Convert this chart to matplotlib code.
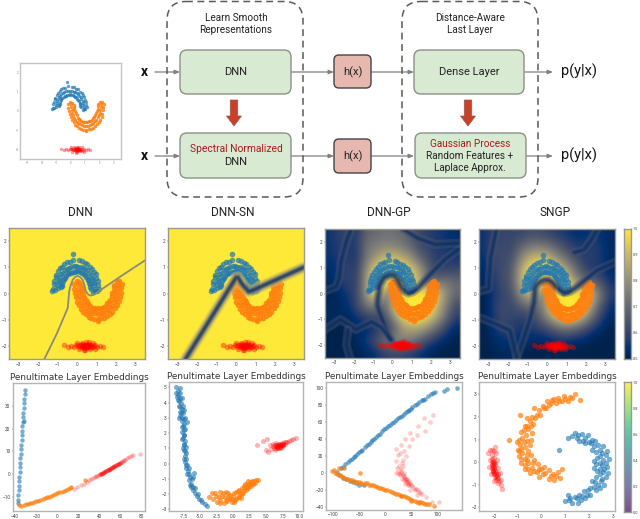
import matplotlib
matplotlib.use("Agg")
import matplotlib.pyplot as plt
import numpy as np
from matplotlib.patches import FancyBboxPatch, FancyArrow

plt.rcParams["font.family"] = ["Roboto", "DejaVu Sans"]

# ----- Data -----
BLUE_MOON = np.array([
    (-1.00, .20), (-1.24, .16), (-.80, .24), (-1.02, .33), (-1.19, .36), (-.78, .30), (-.95, .44), (-1.17, .49),
    (-.76, .38), (-.93, .52), (-1.10, .62), (-.71, .47), (-.86, .63), (-1.06, .70), (-.69, .55), (-.81, .73),
    (-.97, .85), (-.63, .61), (-.71, .79), (-.87, .96), (-.56, .66), (-.63, .89), (-.76, 1.03), (-.47, .73),
    (-.52, .95), (-.66, 1.13), (-.41, .77), (-.42, .98), (-.49, 1.19), (-.33, .80), (-.29, 1.03), (-.37, 1.22),
    (-.23, .83), (-.18, 1.05), (-.19, 1.29), (-.11, .83), (-.05, 1.06), (-.21, 1.50), (-.04, .86), (.07, 1.03),
    (.11, 1.26), (.05, .85), (.21, 1.01), (.25, 1.24), (.16, .81), (.33, .99), (.41, 1.16), (.24, .80),
    (.42, .93), (.54, 1.12), (.34, .74), (.54, .88), (.65, 1.01), (.41, .71), (.61, .79), (.78, .94),
    (.46, .62), (.71, .72), (.86, .82), (.55, .57), (.76, .61), (.96, .73), (.57, .51), (.84, .53),
    (1.00, .58), (.64, .41), (.86, .41), (1.07, .48), (.66, .36), (.90, .31), (1.09, .32), (.69, .24),
    (.91, .19), (1.13, .19), (.71, .19), (1.01, .08), (.84, .05), (.95, .11), (-1.29, .10), (-1.15, .14),
])
ORANGE_MOON = np.array([
    (.05, .36), (-.15, .38), (.25, .33), (-.02, .46), (.12, .44), (.04, .19), (-.14, .17), (.26, .22),
    (.09, .07), (-.09, .02), (.27, .11), (.11, -.09), (-.06, -.15), (.33, -.01), (.19, -.21), (.02, -.31),
    (.35, -.13), (.26, -.36), (.10, -.45), (.44, -.23), (.33, -.45), (.21, -.59), (.50, -.34), (.46, -.55),
    (.32, -.71), (.59, -.41), (.55, -.64), (.45, -.78), (.68, -.46), (.69, -.70), (.61, -.88), (.76, -.54),
    (.79, -.75), (.74, -.92), (.88, -.55), (.95, -.76), (.89, -.97), (.97, -.59), (1.06, -.79), (1.08, -.99),
    (1.06, -.57), (1.22, -.76), (1.25, -.95), (1.16, -.58), (1.33, -.75), (1.41, -.92), (1.29, -.54), (1.48, -.68),
    (1.55, -.87), (1.37, -.50), (1.57, -.64), (1.69, -.78), (1.49, -.47), (1.71, -.53), (1.82, -.69), (1.56, -.38),
    (1.79, -.46), (1.95, -.57), (1.66, -.31), (1.90, -.32), (2.04, -.45), (1.71, -.23), (1.95, -.20), (2.15, -.29),
    (1.79, -.11), (2.03, -.08), (2.19, -.14), (1.82, .01), (2.05, .07), (2.27, .03), (1.88, .09), (2.10, .20),
    (2.28, .20), (1.88, .24), (2.09, .34), (2.31, .36), (1.91, .34), (2.06, .46), (2.16, .47), (1.10, -1.05),
])
RED_BLOB = np.array([
    (.45, -2.0), (.40, -1.96), (.50, -2.04), (.30, -2.02), (.60, -1.98), (.35, -2.07), (.55, -1.93), (.20, -1.98),
    (.70, -2.03), (.15, -2.05), (.75, -1.96), (.05, -2.0), (.85, -2.02), (.45, -1.87), (.42, -2.14), (.25, -1.90),
    (.65, -2.10), (-.05, -1.97), (.95, -1.98), (-.15, -2.03), (1.05, -2.04), (.10, -2.12), (.80, -1.90), (.35, -2.17),
    (.60, -1.85), (-.30, -1.99), (1.20, -2.0), (-.45, -2.04), (1.35, -2.03), (.00, -1.88), (.95, -2.12), (-.65, -1.98),
    (.48, -1.95), (.38, -2.03), (.52, -2.0), (.28, -1.96), (.62, -2.05), (.44, -2.08), (.33, -1.93), (.58, -2.02),
    (.42, -2.02), (.47, -1.98), (.36, -1.99), (.56, -1.97), (.24, -2.04), (.68, -1.97), (.12, -1.96), (.78, -2.06),
])

E1_BLUE = np.array([
    (-37.0, -12.5), (-37.2, -11), (-36.9, -9), (-36.7, -7), (-36.5, -5), (-36.2, -3), (-36, -1), (-35.8, 1), (-35.5, 3),
    (-35.2, 5), (-35, 7), (-34.7, 9), (-34.4, 11), (-34.1, 13), (-33.9, 15), (-33.6, 17), (-33.3, 19), (-33.1, 21),
    (-32.8, 23), (-32.5, 25), (-32.3, 27), (-32, 29), (-31.7, 31), (-31.3, 33), (-31, 35), (-30.7, 37), (-31.2, 23.5),
])
E1_ORANGE = np.array([
    (-36, -13.5), (-34, -13.7), (-32, -13.2), (-30, -13), (-28, -12.9), (-26, -12.6), (-24, -12.4), (-22, -12.1), (-20, -11.8),
    (-18, -11.5), (-16, -11.2), (-14, -10.8), (-12, -10.5), (-10, -10.1), (-8, -9.8), (-6, -9.4), (-4, -9), (-2, -8.6),
    (0, -8.3), (2, -7.9), (4, -7.5), (6, -7.1), (8, -6.7), (10, -6.2), (12, -5.8), (13, -5.5), (26, -2.4),
])
E1_RED = np.array([
    (16, -6.3), (19, -5.6), (22, -4.6), (25, -4), (28, -3.2), (30, -2.6), (32, -2.2), (34, -1.6), (36, -1),
    (37, -.9), (38, -.6), (39, -.3), (40, 0), (41, .2), (42, .4), (43, .7), (44, .9), (45, 1.2),
    (46, 1.4), (47, 1.7), (48, 1.9), (49, 2.2), (50, 2.4), (51, 2.7), (52, 3), (53, 3.2), (54, 3.5),
    (55, 3.8), (56, 4.1), (57, 4.4), (58, 4.7), (59, 5), (60, 5.3), (62, 5.8), (64, 6.4), (66, 7),
    (68, 7.6), (70, 8), (72, 8.4), (78, 9), (40.5, .1), (44.5, 1), (48.5, 2), (52.5, 3.1), (56.5, 4.3),
    (41.5, .3), (43.5, .8), (45.5, 1.3), (47.5, 1.8), (49.5, 2.3), (51.5, 2.9), (53.5, 3.3), (55.5, 3.9), (57.5, 4.5),
    (59.5, 5.1), (61, 5.5), (63, 6.1), (42, .3), (46, 1.5), (50, 2.5), (54, 3.6), (58, 4.6),
])

E2_BLUE = np.array([
    (-8.65, 5.0), (-8.0, 4.95), (-8.6, 4.6), (-8.3, 4.5), (-8.1, 4.3), (-8.4, 4.2), (-7.9, 4.0), (-8.2, 3.8), (-7.8, 3.6),
    (-8.1, 3.4), (-7.6, 3.3), (-8.0, 3.1), (-7.3, 3.0), (-7.8, 2.8), (-7.0, 2.7), (-7.6, 2.5), (-7.3, 2.3), (-7.7, 2.1),
    (-7.4, 1.9), (-7.6, 1.7), (-7.3, 1.5), (-7.5, 1.3), (-7.2, 1.1), (-7.5, .9), (-7.2, .7), (-7.3, .5), (-7.1, .3),
    (-7.3, .1), (-6.9, -.1), (-7.1, -.3), (-6.8, -.5), (-6.9, -.7), (-6.5, -.9), (-6.7, -1.1), (-6.3, -1.3), (-6.4, -1.5),
    (-6.0, -1.7), (-5.8, -1.9), (-5.5, -2.1), (-5.1, -2.3), (-4.7, -2.5), (-4.2, -2.65), (-3.9, -2.75),
    (-8.4, 4.75), (-8.5, 4.4), (-8.0, 4.6), (-8.2, 4.1), (-7.8, 4.3), (-8.0, 3.7), (-7.6, 3.8), (-7.9, 3.3), (-7.5, 3.5),
    (-7.7, 3.0), (-8.2, 3.0), (-7.5, 2.9), (-7.4, 2.6), (-7.8, 2.4), (-7.5, 2.2), (-7.5, 1.9), (-7.7, 1.6), (-7.4, 1.2),
    (-7.6, 1.0), (-7.3, .8), (-7.4, .3), (-7.1, -.1), (-6.7, -.3), (-6.6, -.7), (-5.9, -.6), (-6.2, -1.0), (-6.5, -1.4),
    (-6.1, -1.5), (-5.7, -1.6), (-5.3, -2.0), (-4.9, -2.4), (-6.1, -.9),
])
E2_ORANGE = np.array([
    (-3.65, -2.2), (-3.2, -1.9), (-3.0, -2.3), (-2.6, -2.1), (-2.4, -2.5), (-2.0, -1.85), (-2.0, -2.4), (-1.7, -2.1), (-1.4, -2.55),
    (-1.2, -2.2), (-.9, -2.45), (-.7, -1.95), (-.5, -2.3), (-.2, -2.5), (0, -2.1), (.3, -2.35), (.5, -1.85), (.7, -2.2),
    (.9, -1.75), (1.1, -2.05), (1.3, -1.6), (1.5, -1.95), (1.7, -1.45), (1.9, -1.75), (2.1, -1.3), (2.3, -1.6), (2.5, -1.2),
    (2.7, -1.45), (2.9, -1.15), (3.1, -1.35), (3.3, -1.25), (3.5, -1.1), (3.85, -1.05), (.9, -2.2), (1.4, -2.0), (-1.0, -1.85),
    (-2.8, -1.9), (-2.2, -2.2), (-1.9, -2.55), (-1.5, -1.95), (-1.1, -2.4), (-.8, -2.2), (-.4, -2.05), (-.1, -2.3), (.2, -2.5),
    (.2, -1.95), (.5, -2.3), (.7, -1.8), (1.0, -1.9), (1.2, -2.25), (1.6, -1.7), (1.8, -1.55), (2.0, -1.5), (2.2, -1.45), (2.4, -1.35),
    (2.6, -1.3), (2.8, -1.3), (3.0, -1.2), (3.2, -1.15), (2.2, -1.15), (1.8, -1.3),
])
E2_RED = np.array([
    (3.6, 1.2), (4.6, 1.5), (5.0, .9), (5.1, 1.6), (5.3, .75), (5.6, 1.2), (5.8, .95), (6.0, 1.3), (6.2, 1.05),
    (6.3, 1.2), (6.4, .9), (6.5, 1.35), (6.6, 1.1), (6.7, 1.0), (6.8, 1.25), (6.9, 1.15), (7.0, 1.05), (7.1, 1.3),
    (7.2, 1.2), (7.3, 1.1), (7.4, 1.35), (7.5, 1.25), (7.6, 1.15), (7.7, 1.4), (7.8, 1.3), (8.0, 1.4), (8.2, 1.45),
    (8.5, 1.5), (8.8, 1.55), (9.1, 1.6), (9.6, 1.65), (6.6, 1.2), (6.9, 1.3), (7.2, 1.05), (7.5, 1.3),
    (6.1, 1.15), (6.4, 1.15), (6.7, 1.2), (7.0, 1.2), (7.3, 1.25), (7.6, 1.3), (6.5, 1.0), (6.8, 1.05), (7.1, 1.1), (7.4, 1.2),
])

E3_BLUE = np.array([
    (-92, 2), (-86, 6), (-82, 8), (-77, 11), (-72, 14), (-68, 16), (-65, 17), (-61, 19), (-58, 20), (-54, 23),
    (-50, 25), (-47, 27), (-44, 28), (-40, 31), (-36, 33), (-32, 35), (-28, 37), (-25, 39), (-22, 41), (-18, 43),
    (-14, 45), (-10, 47), (-6, 50), (-2, 52), (2, 54), (5, 56), (8, 57), (12, 59), (16, 61), (20, 63),
    (24, 65), (28, 66), (32, 68), (36, 70), (40, 72), (43, 73), (46, 75), (49, 76), (52, 78), (56, 80),
    (60, 82), (65, 84), (70, 86), (73, 87), (76, 88), (82, 91), (88, 93), (92, 95), (96, 96), (112, 97),
    (118, 99), (137, 101), (-90, -2), (-82, -5), (-75, -7), (-68, -9), (-62, -10), (-56, -11), (-50, -13), (-42, -14),
])
E3_ORANGE = np.array([
    (-102, 2.5), (-98, 3.5), (-96, 0), (-90, 7), (-92, -1), (-88, -2), (-85, -3), (-82, -4), (-80, -5), (-76, -6),
    (-72, -7), (-68, -8), (-64, -8), (-61, -9), (-58, -10), (-54, -10), (-50, -10), (-47, -11), (-44, -12), (-40, -11),
    (-36, -11), (-32, -13), (-28, -14), (-24, -14), (-20, -15), (-16, -16), (-12, -17), (-8, -17), (-4, -18), (0, -19),
    (4, -20), (8, -21), (12, -22), (16, -23), (20, -24), (24, -24), (28, -25), (32, -26), (36, -27), (40, -28),
    (44, -29), (48, -30), (52, -31), (56, -32), (60, -33), (64, -33), (68, -34), (72, -35), (76, -36), (80, -36),
    (83, -36), (-80, 6), (-48, 0), (93, -38), (30, -27), (50, -32), (65, -35),
])
E3_RED = np.array([
    (92, 69), (75, 65), (86, 60), (62, 56), (76, 50), (48, 48), (60, 45), (38, 40), (52, 40), (30, 34),
    (45, 32), (20, 29), (36, 26), (25, 22), (40, 20), (20, 15), (32, 12), (22, 7), (30, 5), (24, 2),
    (36, 0), (20, 1), (28, -2), (35, -4), (40, -6), (32, -7), (42, -9), (48, -11), (38, -12), (52, -15),
    (58, -18), (48, -20), (64, -22), (70, -24), (60, -25), (78, -28), (90, -33), (102, -33), (36, -3), (42, -7),
    (30, 3), (26, -1), (46, -14), (56, -19), (34, 9), (28, 24), (33, 16), (26, 9), (30, 0), (33, -2),
    (38, -6), (44, -11), (50, -14), (54, -17), (40, -10), (46, -9), (62, -20), (66, -23), (36, -8), (43, -13),
])

E4_RED = np.array([
    (-2.1, .55), (-1.95, .65), (-2.25, .38), (-2.1, .3), (-1.9, .4), (-2.1, .12), (-2.0, .2), (-2.05, 0), (-1.95, -.05), (-2.1, -.12),
    (-2.0, -.2), (-2.1, -.28), (-1.98, -.3), (-2.05, -.4), (-1.9, -.45), (-2.0, -.52), (-1.85, -.55), (-1.95, -.65), (-1.82, -.7), (-1.9, -.8),
    (-1.78, -.85), (-1.85, -.95), (-1.72, -1.0), (-1.68, -1.2), (-2.02, -.1), (-2.03, -.25), (-1.98, -.48), (-1.92, -.6), (-1.88, -.72),
    (-2.05, .05), (-2.08, -.05), (-2.0, -.02), (-2.04, -.16), (-1.96, -.15), (-2.06, -.33), (-1.96, -.38), (-1.93, -.52), (-2.02, -.44), (-1.87, -.62),
    (-2.18, .1), (-1.86, .1), (-2.2, -.2), (-1.84, -.25), (-2.12, -.55), (-1.76, -.5), (-2.0, -.85), (-1.7, -.8), (-1.98, .5), (-2.15, .52),
])
E4_ORANGE = np.array([
    (1.63, 2.75), (1.4, 3.0), (1.3, 2.85), (1.1, 2.7), (.95, 2.95), (.85, 2.7), (.7, 2.85), (.6, 2.6), (.45, 2.75), (.3, 2.55),
    (.2, 2.4), (.05, 2.5), (-.1, 2.3), (-.2, 2.1), (-.3, 2.4), (-.4, 2.0), (-.5, 1.8), (-.35, 1.7), (-.6, 1.95), (-.7, 1.6),
    (-.55, 1.45), (-.85, 1.35), (-.65, 1.2), (-.8, 1.05), (-.95, 1.0), (-.6, .95), (-1.05, .9), (-.9, .75), (-.7, .65), (-1.0, .55),
    (-.8, .4), (-.55, .5), (-.95, .25), (-.7, .15), (-.45, .3), (-.85, -.05), (-.55, -.05), (-.3, .1), (-.7, -.3), (-.4, -.25),
    (-.15, -.1), (-.5, -.5), (-.2, -.45), (0, -.3), (-.1, -.65), (.15, -.5), (.3, -.35), (.3, -.75), (.5, -.55), (.7, -.45),
    (.55, -.8), (.79, -.7), (-.9, 2.1), (-1.35, 1.0), (.85, -.3),
    (1.2, 2.9), (1.0, 2.8), (.75, 2.7), (.55, 2.8), (.4, 2.6), (.25, 2.7), (.1, 2.4), (-.05, 2.1), (-.25, 1.95), (-.45, 1.6),
    (-.4, 1.3), (-.75, 1.4), (-.45, 1.0), (-.75, .9), (-.5, .75), (-.85, .6), (-.6, .3), (-.85, .15), (-.6, .1), (-.35, -.05),
    (-.7, -.15), (-.3, -.4), (-.55, -.3), (.05, -.55), (.4, -.6), (.6, -.6), (.1, -.2), (-.1, -.3), (-.95, .5), (-.6, 1.6),
])
E4_BLUE = np.array([
    (1.14, 1.07), (1.4, 1.3), (1.5, 1.05), (1.7, 1.25), (1.75, .95), (1.95, 1.2), (2.0, .9), (2.15, 1.0), (2.2, .7), (2.4, .75),
    (2.3, .45), (2.55, .4), (2.75, .5), (2.35, .2), (2.6, .1), (2.85, .15), (2.3, -.1), (2.55, -.15), (2.75, -.2), (2.35, -.4),
    (2.6, -.45), (2.8, -.5), (2.3, -.65), (2.55, -.75), (2.15, -.85), (2.4, -1.0), (2.65, -1.0), (2.05, -1.15), (2.3, -1.25), (1.8, -1.3),
    (2.05, -1.45), (1.6, -1.45), (1.85, -1.6), (1.4, -1.55), (1.65, -1.7), (1.2, -1.6), (1.0, -1.74), (1.3, -1.8), (.75, .55), (1.1, -1.45),
    (1.3, 1.15), (1.55, 1.2), (1.6, .95), (1.85, 1.05), (1.85, .85), (2.1, .85), (2.25, .95), (2.45, .55), (2.15, .55), (2.6, .7),
    (2.45, .25), (2.7, .3), (2.2, .05), (2.45, -.05), (2.7, -.05), (2.2, -.25), (2.45, -.3), (2.65, -.3), (2.45, -.55), (2.7, -.65),
    (2.25, -.9), (2.5, -.85), (2.2, -1.1), (2.45, -1.15), (1.95, -1.25), (1.9, -1.45), (1.7, -1.5), (1.5, -1.6), (1.55, -1.8), (1.15, -1.7),
])

# confidence on a coarse grid, x -3.5..3.5, y 2.5..-2.5
GP_FIELD = np.array([
    [.55, .58, .60, .56, .68, .70, .72, .72, .70, .66, .60, .58, .56, .55, .53],
    [.55, .58, .58, .56, .72, .75, .78, .78, .75, .70, .62, .60, .57, .56, .54],
    [.55, .56, .58, .56, .72, .82, .90, .92, .88, .82, .70, .62, .58, .57, .56],
    [.53, .55, .60, .58, .78, .95, 1.0, 1.0, 1.0, .95, .85, .68, .58, .60, .60],
    [.52, .55, .60, .58, .80, 1.0, 1.0, .95, 1.0, 1.0, .85, .70, .72, .74, .70],
    [.50, .52, .56, .60, .80, .98, .82, .75, .95, 1.0, 1.0, 1.0, .95, .80, .70],
    [.52, .52, .54, .60, .72, .78, .66, .90, 1.0, 1.0, 1.0, 1.0, .90, .75, .62],
    [.52, .52, .52, .55, .58, .60, .60, .78, .95, 1.0, 1.0, .95, .85, .70, .58],
    [.50, .50, .50, .52, .53, .55, .58, .62, .80, .85, .85, .78, .68, .58, .52],
    [.50, .50, .50, .52, .56, .62, .72, .78, .78, .75, .68, .60, .55, .52, .50],
    [.50, .50, .50, .50, .52, .54, .58, .60, .60, .58, .55, .52, .50, .50, .50],
])
SNGP_FIELD = np.array([
    [.55, .58, .60, .60, .60, .62, .62, .60, .58, .56, .54, .54, .56, .54, .52],
    [.55, .60, .62, .60, .68, .74, .76, .74, .68, .62, .58, .56, .58, .56, .52],
    [.54, .60, .62, .62, .76, .88, .92, .90, .82, .72, .64, .58, .58, .56, .52],
    [.52, .58, .62, .64, .84, .98, 1.0, 1.0, .98, .88, .74, .62, .56, .56, .52],
    [.52, .56, .62, .64, .85, 1.0, 1.0, .92, 1.0, 1.0, .84, .74, .70, .62, .55],
    [.50, .55, .60, .62, .78, .90, .80, .78, .95, 1.0, 1.0, 1.0, .90, .72, .58],
    [.50, .56, .62, .60, .66, .72, .68, .88, 1.0, 1.0, 1.0, 1.0, .82, .64, .54],
    [.50, .55, .62, .60, .58, .58, .64, .78, .90, .98, .95, .86, .70, .58, .52],
    [.50, .54, .58, .58, .56, .56, .58, .60, .66, .70, .68, .62, .56, .52, .50],
    [.50, .52, .54, .54, .54, .52, .52, .52, .54, .54, .52, .52, .50, .50, .50],
    [.50, .50, .52, .52, .50, .50, .50, .50, .50, .50, .50, .50, .50, .50, .50],
])

# class boundaries
DNN_LINE_X = [-1.68, -1.05, -0.48, -0.44, -0.40, -0.32, -0.22, -0.10, 0.03, 0.18, 0.29, 0.38, 0.46, 0.58, 0.72, 0.92, 1.15, 2.3, 3.47]
DNN_LINE_Y = [-2.5, -1.55, -0.56, -0.25, 0.08, 0.33, 0.52, 0.63, 0.67, 0.62, 0.52, 0.32, 0.08, -0.04, -0.08, -0.03, 0.10, 0.68, 1.25]
SN_LINE_X = [-2.6, -1.3, 0.0, 0.1, 0.3, 0.65, 0.85, 3.49]
SN_LINE_Y = [-2.5, -0.95, 0.61, 0.62, 0.38, 0.07, 0.12, 1.0]
GP_LINES = [
    ([-.09, -.43, -.69, -.78, -.76, -.66, -.43, -.14, .08, .26, .40, .52, .66, .83, 1.05, 1.29, 2.07, 2.76, 3.47],
     [-1.79, -1.22, -.70, -.45, -.19, .32, .60, .70, .68, .55, .35, .19, .07, .01, .06, .19, .83, 1.35, 1.73]),
    ([-2.16, -2.41, -2.67, -2.76, -2.93, -3.5], [2.47, 1.99, 1.22, .58, .26, .09]),
    ([.55, 1.3, 2.2, 3.5], [2.5, 2.15, 1.9, 1.95]),
    ([-3.5, -2.7, -1.9, -1.1, -.6, -.09], [-1.4, -1.0, -1.4, -1.1, -1.3, -1.79]),
    ([-2.3, -2.4, -2.2], [-1.4, -2.0, -2.5]),
]
SNGP_LINES = [
    ([-1.56, -1.21, -.87, -.67, -.62, -.52, -.36, -.15, .07, .30, .50, .70, .92, 1.2, 1.61, 2.55, 3.49],
     [-2.44, -1.73, -.96, -.32, .19, .36, .47, .54, .55, .44, .26, .12, .04, .10, .32, .90, 1.22]),
    ([-2.6, -2.9, -3.0, -3.5], [2.5, 1.4, .2, .1]),
    ([1.4, 1.9, 2.3, 2.6], [1.6, 1.7, 2.1, 2.5]),
    ([-3.5, -2.8, -1.9, -1.56], [-.9, -1.1, -1.4, -2.44]),
]

X_TICKS = [-3, -2, -1, 0, 1, 2, 3]
Y_TICKS = [-2, -1, 0, 1, 2]
CBAR_TICKS_TOP = [0.5, 0.6, 0.7, 0.8, 0.9, 1.0]
CBAR_TICKS_BOTTOM = [0.0, 0.2, 0.4, 0.6, 0.8, 1.0]

TITLES = ["DNN", "DNN-SN", "DNN-GP", "SNGP"]
EMB_TITLE = "Penultimate Layer Embeddings"

BLUE, ORANGE, RED = "#1f77b4", "#ff7f0e", "#ff0000"
W, H = 640, 519
TICK_FS = 3.4


# ----- Functions -----
def px_axes(fig, x0, y0, x1, y1):
    return fig.add_axes([x0 / W, 1 - y1 / H, (x1 - x0) / W, (y1 - y0) / H])


def style_axes(ax, color="#9a9a90"):
    ax.tick_params(labelsize=TICK_FS, length=1, width=0.3, pad=0.8, colors="#444444")
    for s in ax.spines.values():
        s.set_color(color)
        s.set_linewidth(1.0)


def scatter_moons(ax, s=16, alpha=0.7):
    ax.scatter(*BLUE_MOON.T, s=s, c=BLUE, alpha=alpha, linewidths=0)
    ax.scatter(*ORANGE_MOON.T, s=s, c=ORANGE, alpha=0.85, linewidths=0)
    ax.scatter(*RED_BLOB.T, s=s, c=RED, alpha=0.4, linewidths=0)


def moon_axes(ax, field=None):
    ax.set_xlim(-3.5, 3.5)
    ax.set_ylim(-2.5, 2.5)
    ax.set_aspect("auto")
    ax.set_xticks(X_TICKS)
    ax.set_yticks(Y_TICKS)
    if field is None:
        ax.set_facecolor(cmap(1.0))
    else:
        ax.imshow(field, extent=(-3.5, 3.5, -2.5, 2.5), cmap=cmap, vmin=0.5, vmax=1.0,
                  interpolation="bicubic", aspect="auto")
    style_axes(ax)


def soft_line(ax, x, y, widths, shades, alpha=0.35):
    for w, c in zip(widths, shades):
        ax.plot(x, y, color=cmap(c), lw=w, alpha=alpha, solid_capstyle="round", solid_joinstyle="round")


def emb_axes(ax, xlim, ylim, xticks, yticks, xlabels=None):
    ax.set_xlim(xlim)
    ax.set_ylim(ylim)
    ax.set_xticks(xticks)
    ax.set_yticks(yticks)
    if xlabels:
        ax.set_xticklabels(xlabels)
    style_axes(ax, "#b4b4b4")


def emb_scatter(ax, blue, orange, red, s=11, red_alpha=0.2):
    ax.scatter(*blue.T, s=s, c=BLUE, alpha=0.6, linewidths=0)
    ax.scatter(*orange.T, s=s, c=ORANGE, alpha=0.7, linewidths=0)
    ax.scatter(*red.T, s=s, c=RED, alpha=red_alpha, linewidths=0)


def emb_title(ax):
    ax.set_title(EMB_TITLE, fontsize=6.4, family="DejaVu Sans", color="#333333", pad=2.5)


def box(ax, x0, y0, x1, y1, fc, ec, r=7, lw=1.0, ls="-"):
    ax.add_patch(FancyBboxPatch((x0, y0), x1 - x0, y1 - y0, boxstyle=f"round,pad=0,rounding_size={r}",
                                fc=fc, ec=ec, lw=lw, ls=ls, zorder=3))


def arrow(ax, x0, x1, y):
    ax.annotate("", xy=(x1, y), xytext=(x0, y), zorder=2,
                arrowprops=dict(arrowstyle="-|>,head_width=0.12,head_length=0.3", color="#808080", lw=0.9,
                                shrinkA=0, shrinkB=0))


# ----- Main -----
cmap = plt.get_cmap("cividis")
fig = plt.figure(figsize=(W / 100, H / 100), dpi=100)

# diagram layer
d = fig.add_axes([0, 0, 1, 1], zorder=0)
d.set_xlim(0, W)
d.set_ylim(H, 0)
d.axis("off")

for x0, x1 in [(167, 303), (402, 538)]:
    box(d, x0, 1.5, x1, 197, "none", "#5a5a5a", r=19, lw=1.1, ls=(0, (4.5, 3)))
GREEN, GREEN_E = "#d9ead3", "#8b9187"
PINK, PINK_E = "#e6b8af", "#444444"
box(d, 180, 50, 291, 94, GREEN, GREEN_E)
box(d, 180, 133, 291, 178, GREEN, GREEN_E)
box(d, 414, 50, 524, 94, GREEN, GREEN_E)
box(d, 415, 133, 526, 178, GREEN, GREEN_E)
box(d, 334, 55, 371, 88, PINK, PINK_E, r=5)
box(d, 334, 139, 371, 173, PINK, PINK_E, r=5)

for y in [72, 156]:
    arrow(d, 155, 180, y)
    arrow(d, 291, 334, y)
    arrow(d, 371, 414, y)
    arrow(d, 525, 553, y)
    d.text(144, y, "x", ha="center", va="center", fontsize=10, fontweight="bold", color="#111111")
    d.text(579, y - 0.5, "p(y|x)", ha="center", va="center", fontsize=10.5, color="#111111")
    d.text(352.5, y, "h(x)", ha="center", va="center", fontsize=8, color="#222222", zorder=5)

for cx in [234, 468]:
    d.add_patch(FancyArrow(cx, 100, 0, 26, width=7.5, head_width=15, head_length=10, length_includes_head=True,
                           fc="#c9402a", ec="#9a5a4a", lw=0.5, zorder=4))

TXT = dict(ha="center", va="center", color="#222222", zorder=5)
d.text(236, 18, "Learn Smooth", fontsize=7.2, **TXT)
d.text(236, 30, "Representations", fontsize=7.2, **TXT)
d.text(470, 18, "Distance-Aware", fontsize=7.2, **TXT)
d.text(470, 30, "Last Layer", fontsize=7.2, **TXT)
d.text(236, 72, "DNN", fontsize=8, **TXT)
d.text(236, 149.5, "Spectral Normalized", fontsize=7.4, ha="center", va="center", color="#a61c1c", zorder=5)
d.text(236, 162, "DNN", fontsize=8, **TXT)
d.text(469, 72, "Dense Layer", fontsize=8, **TXT)
d.text(470, 144, "Gaussian Process", fontsize=7.2, ha="center", va="center", color="#a61c1c", zorder=5)
d.text(470, 156, "Random Features +", fontsize=7.2, **TXT)
d.text(470, 168, "Laplace Approx.", fontsize=7.2, **TXT)

title_x = [80, 232.5, 388.5, 555]
for t, x in zip(TITLES, title_x):
    d.text(x, 213, t, ha="center", va="center", fontsize=8.6, color="#222222")

# data inset
ax = px_axes(fig, 20, 63, 121, 159)
ax.set_xlim(-3.5, 3.5)
ax.set_ylim(-2.5, 2.5)
ax.set_xticks(X_TICKS)
ax.set_yticks(Y_TICKS)
scatter_moons(ax, s=6)
style_axes(ax, "#c4c4c4")
ax.tick_params(labelsize=1.8, length=0.6, pad=0.5, colors="#777777")

# confidence surfaces
ax = px_axes(fig, 9, 228, 145, 359)
moon_axes(ax)
ax.plot(DNN_LINE_X, DNN_LINE_Y, color="#8a8a80", lw=1.3, solid_joinstyle="round")
scatter_moons(ax)

ax = px_axes(fig, 168, 228, 304, 359)
moon_axes(ax)
soft_line(ax, SN_LINE_X, SN_LINE_Y, [8.5, 7, 5.5, 4, 2.8, 1.6], [0.85, 0.7, 0.5, 0.3, 0.1, 0.0], alpha=0.4)
scatter_moons(ax)

ax = px_axes(fig, 325, 229, 460, 358)
moon_axes(ax, GP_FIELD)
for lx, ly in GP_LINES:
    soft_line(ax, lx, ly, [6.5, 4.5, 3, 1.6], [0.3, 0.2, 0.1, 0.0], alpha=0.35)
scatter_moons(ax)

ax = px_axes(fig, 479, 229, 615, 359)
moon_axes(ax, SNGP_FIELD)
for lx, ly in SNGP_LINES:
    soft_line(ax, lx, ly, [6.5, 4.5, 3, 1.6], [0.3, 0.2, 0.1, 0.0], alpha=0.35)
scatter_moons(ax)

# colorbars
cb = px_axes(fig, 624, 229, 631, 359)
cb.imshow(np.linspace(1, 0.5, 128)[:, None], extent=(0, 1, 0.5, 1), cmap=cmap, vmin=0.5, vmax=1, aspect="auto")
cb.set_xticks([])
cb.yaxis.tick_right()
cb.set_yticks(CBAR_TICKS_TOP)
style_axes(cb, "#999999")
cb.tick_params(labelsize=2.8, pad=0.5, length=0.8)

cb = px_axes(fig, 624, 382, 631, 512)
cb.imshow(np.linspace(1, 0, 128)[:, None], extent=(0, 1, 0, 1), cmap="viridis", vmin=0, vmax=1, alpha=0.7, aspect="auto")
cb.set_xticks([])
cb.yaxis.tick_right()
cb.set_yticks(CBAR_TICKS_BOTTOM)
style_axes(cb, "#999999")
cb.tick_params(labelsize=2.8, pad=0.5, length=0.8)

# embeddings
ax = px_axes(fig, 13, 383, 145, 511)
emb_axes(ax, (-42, 83), (-16, 39.9), [-40, -20, 0, 20, 40, 60, 80], [-10, 0, 10, 20, 30])
emb_scatter(ax, E1_BLUE, E1_ORANGE, E1_RED, s=10, red_alpha=0.25)
emb_title(ax)

ax = px_axes(fig, 169, 382, 303, 511)
emb_axes(ax, (-9.7, 10.6), (-3.1, 5.35), [-7.5, -5, -2.5, 0, 2.5, 5, 7.5, 10], [-3, -2, -1, 0, 1, 2, 3, 4, 5],
         ["-7.5", "-5.0", "-2.5", "0.0", "2.5", "5.0", "7.5", "10.0"])
emb_scatter(ax, E2_BLUE, E2_ORANGE, E2_RED, s=13, red_alpha=0.3)
emb_title(ax)

ax = px_axes(fig, 326, 382, 462, 510)
emb_axes(ax, (-114, 147), (-43, 107.6), [-100, -50, 0, 50, 100], [-40, -20, 0, 20, 40, 60, 80, 100])
emb_scatter(ax, E3_BLUE, E3_ORANGE, E3_RED, s=11, red_alpha=0.2)
emb_title(ax)

ax = px_axes(fig, 479, 382, 615, 511)
emb_axes(ax, (-2.63, 3.1), (-2.17, 3.55), [-2, -1, 0, 1, 2, 3], [-2, -1, 0, 1, 2, 3])
emb_scatter(ax, E4_BLUE, E4_ORANGE, E4_RED, s=15, red_alpha=0.3)
emb_title(ax)

fig.savefig("out.png", dpi=100)
